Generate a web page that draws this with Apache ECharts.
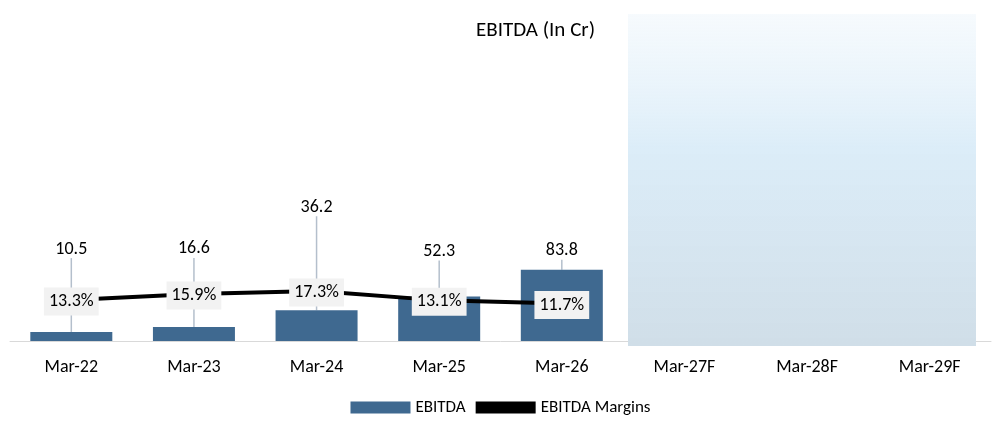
<!DOCTYPE html>
<html><head><meta charset="utf-8">
<script src="https://cdn.jsdelivr.net/npm/echarts@6/dist/echarts.min.js"></script>
<style>html,body{margin:0;background:#fff}#c{width:1001px;height:427px}</style>
</head><body><div id="c"></div>
<script>
var categories = ['Mar-22', 'Mar-23', 'Mar-24', 'Mar-25', 'Mar-26', 'Mar-27F', 'Mar-28F', 'Mar-29F'];
var ebitda = [10.5, 16.6, 36.2, 52.3, 83.8, null, null, null];
var margins = [13.3, 15.9, 17.3, 13.1, 11.7, null, null, null];
// how far each bar label sits above its bar, px
var labelLift = [68, 63, 88, 30, 4, 0, 0, 0];

var chart = echarts.init(document.getElementById('c'), null, { renderer: 'canvas' });
var font = 'Calibri, Carlito, "Open Sans", sans-serif';

chart.setOption({
  animation: false,
  textStyle: { fontFamily: font },
  title: { text: 'EBITDA (In Cr)', left: 471, top: 15, textStyle: { fontSize: 21, fontWeight: 'normal', color: '#000', fontFamily: font } },
  legend: {
    bottom: 6, left: 'center', itemGap: 10,
    textStyle: { fontSize: 17, color: '#000' },
    data: [
      { name: 'EBITDA', icon: 'rect', itemStyle: { color: '#3f6990' } },
      { name: 'EBITDA Margins', icon: 'path://M0,0h10v2h-10z' }
    ],
    itemWidth: 60, itemHeight: 12
  },
  grid: { left: 10, right: 10, top: 20, bottom: 86 },
  xAxis: {
    type: 'category', data: categories,
    axisLine: { lineStyle: { color: '#d9d9d9' } },
    axisTick: { show: false },
    axisLabel: { fontSize: 18, color: '#000', margin: 17 }
  },
  yAxis: [
    { type: 'value', min: 0, max: 378, show: false },
    { type: 'value', min: -5, max: 138, show: false }
  ],
  series: [
    {
      name: 'EBITDA', type: 'bar', data: ebitda, barWidth: 82,
      itemStyle: { color: '#3f6990' },
      label: { show: true, position: 'top', fontSize: 18, color: '#000', distance: 6 },
      labelLine: { show: true, lineStyle: { color: '#b4bfcc', width: 1.5 } },
      labelLayout: function (p) { return { dy: -labelLift[p.dataIndex] }; },
      z: 2
    },
    {
      name: 'EBITDA Margins', type: 'line', yAxisIndex: 1, data: margins,
      symbol: 'circle', symbolSize: 1, showAllSymbol: true,
      lineStyle: { color: '#000', width: 4 }, itemStyle: { color: '#000' },
      label: {
        show: true, position: 'top', distance: 0, offset: [0, 16], fontSize: 18, color: '#000',
        backgroundColor: '#f2f2f2', padding: [5, 5],
        formatter: function (p) { return p.value + '%'; }
      },
      z: 3
    }
  ],
  graphic: [{
    type: 'rect', shape: { x: 628, y: 14, width: 348, height: 332 }, z: 10,
    style: {
      fill: new echarts.graphic.LinearGradient(0, 0, 0, 1, [
        { offset: 0, color: 'rgba(240,247,252,0.6)' },
        { offset: 0.4, color: 'rgba(218,236,248,0.95)' },
        { offset: 1, color: 'rgba(208,222,232,1)' }
      ])
    }
  }]
});
</script></body></html>
